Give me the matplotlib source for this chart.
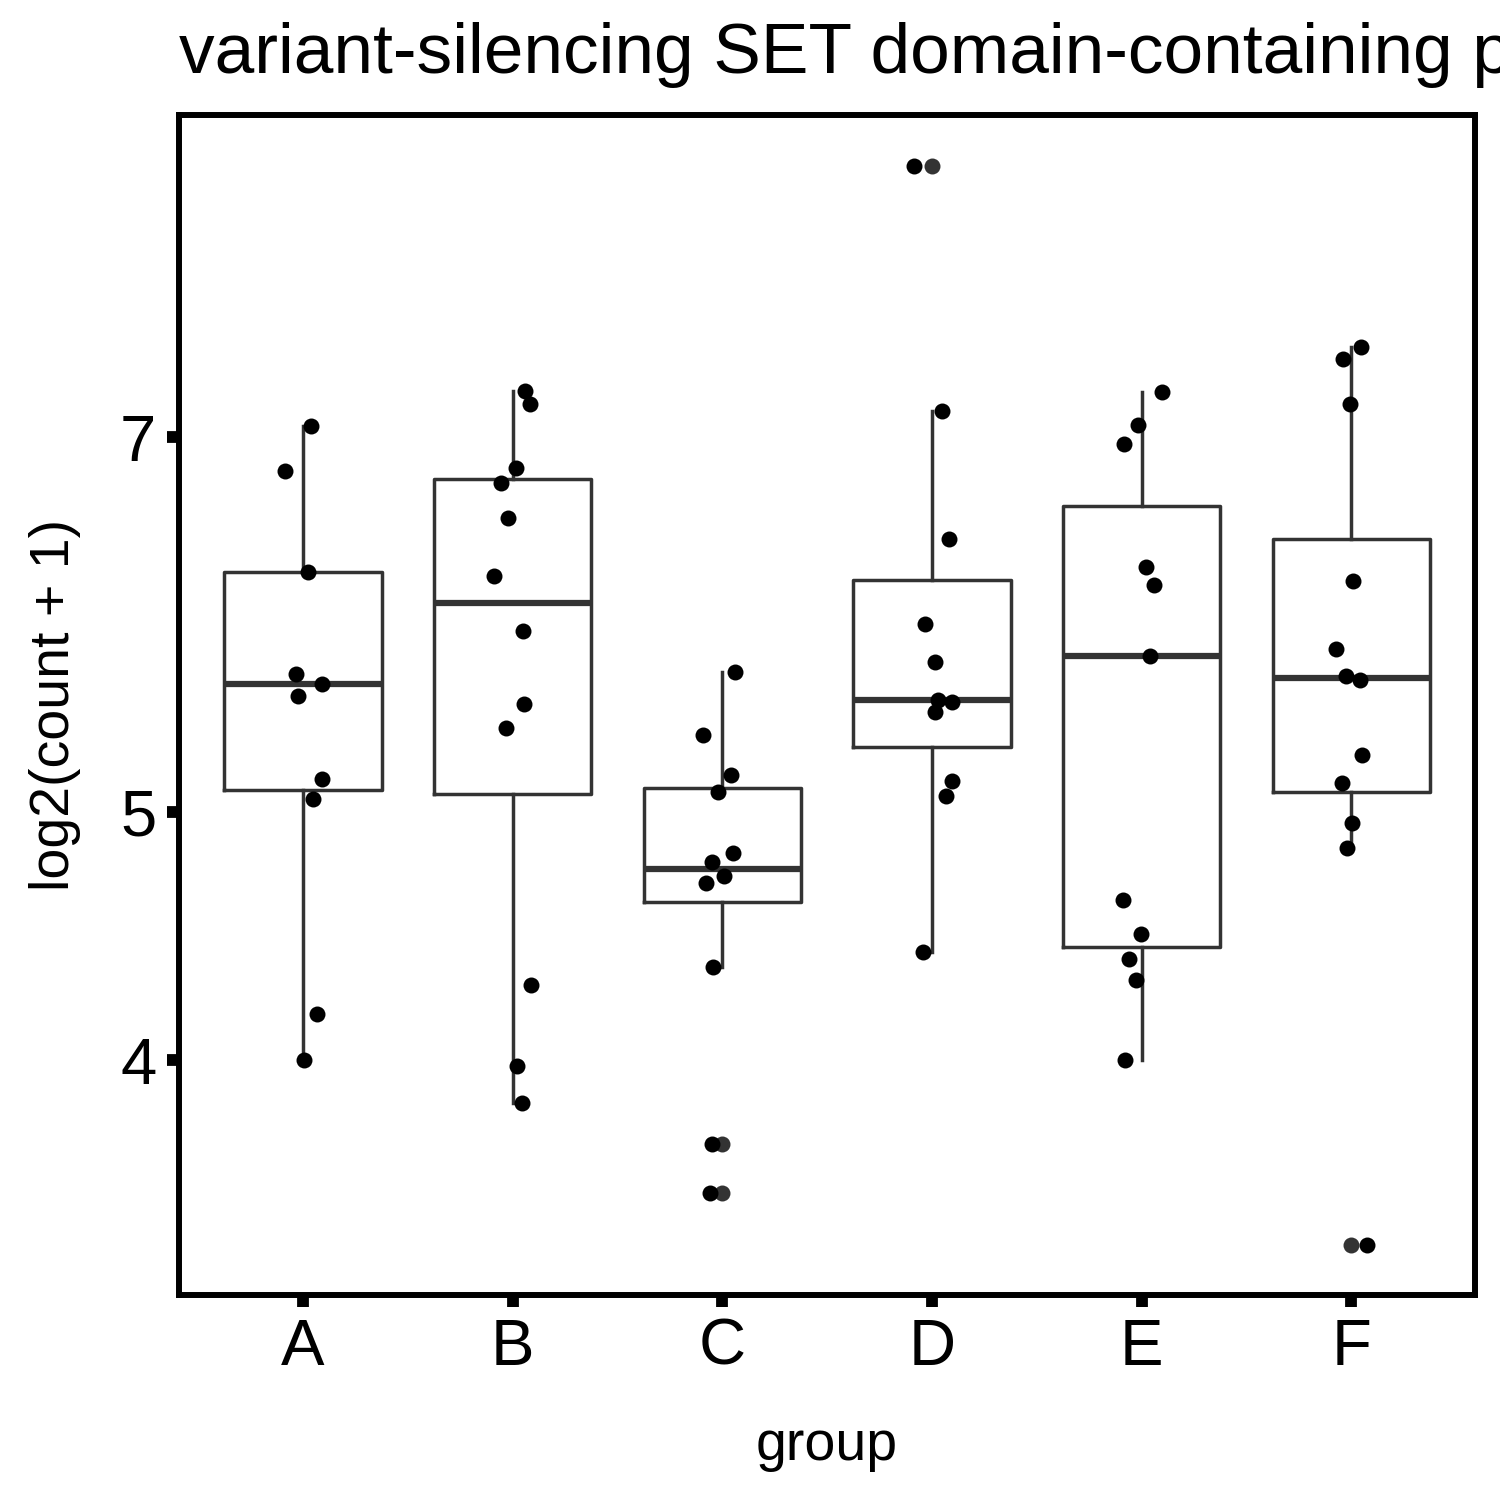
import numpy as np
import matplotlib
matplotlib.use("Agg")
import matplotlib.pyplot as plt

### Data ###
groups = ["A", "B", "C", "D", "E", "F"]

# log2(count + 1) per sample, by group
vals_a = [6.79, 7.07, 6.20, 5.66, 5.61, 5.55, 5.15, 5.06, 4.17, 4.00]
vals_b = [7.30, 7.21, 6.81, 6.72, 6.51, 6.18, 5.88, 5.51, 5.39, 4.28, 3.98, 3.85]
vals_c = [5.67, 5.36, 5.17, 5.09, 4.82, 4.78, 4.72, 4.69, 4.35, 3.71, 3.55]
vals_d = [8.93, 7.17, 6.39, 5.92, 5.72, 5.53, 5.52, 5.47, 5.14, 5.07, 4.41]
vals_e = [7.29, 7.08, 6.96, 6.23, 6.13, 5.75, 4.62, 4.48, 4.38, 4.30, 4.00]
vals_f = [7.59, 7.51, 7.21, 6.15, 5.79, 5.65, 5.63, 5.26, 5.13, 4.95, 4.84, 3.39]
values = [vals_a, vals_b, vals_c, vals_d, vals_e, vals_f]

# horizontal jitter of each point (fraction of group spacing), as seen in the picture
jit_a = [-0.086, 0.038, 0.024, -0.033, 0.091, -0.024, 0.091, 0.048, 0.067, 0.005]
jit_b = [0.057, 0.081, 0.014, -0.057, -0.024, -0.091, 0.048, 0.052, -0.033, 0.086, 0.019, 0.043]
jit_c = [0.062, -0.091, 0.043, -0.019, 0.052, -0.048, 0.010, -0.076, -0.043, -0.048, -0.057]
jit_d = [-0.086, 0.048, 0.081, -0.033, 0.014, 0.029, 0.095, 0.014, 0.095, 0.067, -0.043]
jit_e = [0.095, -0.019, -0.086, 0.019, 0.057, 0.038, -0.091, -0.005, -0.062, -0.029, -0.081]
jit_f = [0.048, -0.038, -0.005, 0.010, -0.072, -0.024, 0.043, 0.052, -0.043, 0.005, -0.019, 0.076]
jitter = [jit_a, jit_b, jit_c, jit_d, jit_e, jit_f]

# box statistics (whisker low, Q1, median, Q3, whisker high) and outliers
whis_lo = [4.00, 3.85, 4.35, 4.41, 4.00, 4.84]
q1 = [5.10, 5.08, 4.61, 5.30, 4.43, 5.09]
med = [5.61, 6.03, 4.75, 5.53, 5.75, 5.64]
q3 = [6.20, 6.74, 5.11, 6.16, 6.58, 6.39]
whis_hi = [7.07, 7.30, 5.67, 7.17, 7.29, 7.59]
outliers = [[], [], [3.71, 3.55], [8.93], [], [3.39]]

y_ticks = [4, 5, 7]

### Plot ###
plt.rcParams["font.family"] = ["Liberation Sans", "DejaVu Sans"]

fig = plt.figure(figsize=(15, 15), dpi=100)
ax = fig.add_axes([0.1195, 0.1367, 0.8638, 0.7866])

stats = []
for i in range(len(groups)):
    stats.append({
        "whislo": whis_lo[i], "q1": q1[i], "med": med[i],
        "q3": q3[i], "whishi": whis_hi[i], "fliers": outliers[i],
    })

box_color = "#333333"
ax.bxp(stats, positions=range(len(groups)), widths=0.75, showcaps=False,
       boxprops={"color": box_color, "linewidth": 2.5},
       whiskerprops={"color": box_color, "linewidth": 2.5},
       medianprops={"color": box_color, "linewidth": 4.5, "solid_capstyle": "butt"},
       flierprops={"marker": "o", "markerfacecolor": box_color, "markeredgecolor": "none",
                   "markersize": 11.5},
       zorder=2)

for i, (vals, jit) in enumerate(zip(values, jitter)):
    xs = np.array(jit) + i
    ax.plot(xs, vals, "o", color="black", markersize=11.5, markeredgewidth=0, zorder=3)

ax.set_yscale("log")
ax.set_ylim(3.24, 9.35)
ax.set_xlim(-0.59, 5.59)
ax.yaxis.set_major_locator(matplotlib.ticker.FixedLocator(y_ticks))
ax.yaxis.set_minor_locator(matplotlib.ticker.NullLocator())
ax.set_yticklabels([str(t) for t in y_ticks])
ax.set_xticks(range(len(groups)))
ax.set_xticklabels(groups)

for side in ["top", "bottom", "left", "right"]:
    ax.spines[side].set_linewidth(4.3)
    ax.spines[side].set_color("black")

ax.tick_params(axis="both", which="major", length=8.5, width=8.5, color="black",
               labelsize=47, pad=8)

ax.set_xlabel("group", fontsize=40, labelpad=30)
ax.set_ylabel("log2(count + 1)", fontsize=40, labelpad=28)
ax.set_title("variant-silencing SET domain-containing protein", fontsize=51.3,
             loc="left", pad=30)

fig.savefig("out.png", dpi=100)
